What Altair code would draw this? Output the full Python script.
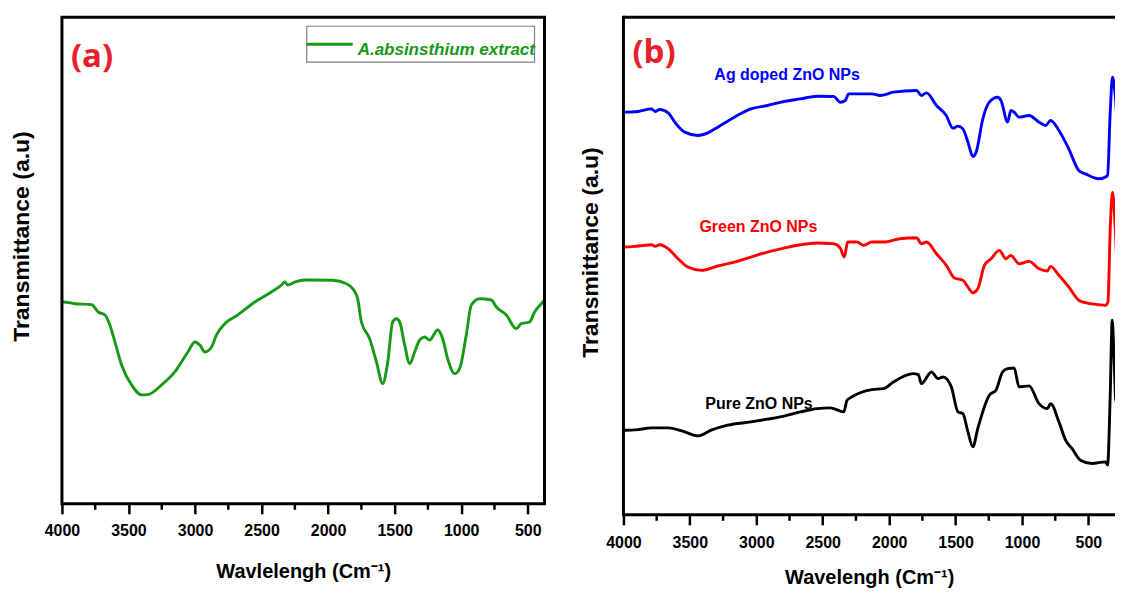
import altair as alt
import pandas as pd

# ---------------- data ----------------
# Panel (a): A. absinthium extract  (wavenumber, transmittance a.u.)
a_wn = [4000, 3990, 3902, 3777, 3727, 3677, 3640, 3602, 3552, 3477, 3402, 3354, 3251, 3152, 3054, 3001,
        2964, 2926, 2876, 2839, 2776, 2679, 2551, 2426, 2350, 2326, 2303, 2251, 2176, 1965, 1862, 1815,
        1778, 1750, 1688, 1637, 1590, 1552, 1515, 1487, 1462, 1425, 1387, 1350, 1312, 1275, 1237, 1177,
        1139, 1102, 1049, 1012, 962, 924, 862, 774, 736, 661, 586, 549, 486, 449, 398, 374]
a_t = [202, 202, 200.3, 199.3, 192, 189, 179, 162, 139, 119, 109, 109.3, 119, 132, 152, 162,
       159, 152, 157, 169, 180.3, 189, 202, 212, 219, 222, 219, 222, 224, 223.7, 220.3, 215.3,
       205.3, 182, 165.3, 142, 120.3, 142, 182, 185.3, 182, 159, 140.3, 152, 164, 167, 164, 174,
       165.3, 145.3, 130.3, 135.3, 169, 199, 205.3, 204, 197, 189, 175.3, 180.3, 182, 192, 200.3, 204]

# Panel (b): Ag doped ZnO NPs
ag_wn = [4000, 3987, 3888, 3788, 3763, 3726, 3663, 3613, 3539, 3439, 3364, 3290, 3165, 3041, 2916, 2791,
         2667, 2542, 2417, 2368, 2330, 2305, 2131, 2068, 1968, 1794, 1757, 1719, 1644, 1570, 1520, 1482,
         1445, 1407, 1370, 1345, 1295, 1246, 1183, 1158, 1108, 1084, 1059, 1022, 947, 872, 822, 785,
         722, 648, 573, 523, 423, 373, 356, 336, 319, 298, 274, 261]
ag_t = [403, 403, 403.7, 406.3, 403.7, 405.7, 402.3, 393, 383, 379.7, 382.3, 388, 398, 406.3, 409.7, 413.7,
        416.3, 419, 418.7, 413, 414.7, 421.3, 421.3, 419.7, 423, 424.7, 419.7, 422.3, 409.7, 399.7, 387, 389,
        386.3, 373, 358.7, 363, 396.3, 413, 418, 414.7, 393, 404.7, 403, 398, 399.7, 393, 389.7, 394.7,
        384.7, 366.3, 344.7, 341.3, 336.3, 338, 339.7, 403, 438, 419.7, 374.7, 373]

# Panel (b): Green ZnO NPs
gr_wn = [4000, 3987, 3888, 3788, 3763, 3726, 3663, 3589, 3514, 3414, 3290, 3165, 3041, 2916, 2791, 2667,
         2542, 2417, 2368, 2338, 2312, 2243, 2193, 2131, 2043, 1919, 1794, 1757, 1719, 1644, 1570, 1508,
         1445, 1407, 1370, 1333, 1283, 1233, 1171, 1121, 1084, 1022, 947, 872, 809, 785, 722, 648,
         573, 523, 423, 373, 353, 336, 319, 298, 281, 261]
gr_t = [268, 268, 269, 270.3, 268.7, 270.3, 266.3, 256.3, 248, 244.7, 249, 253, 258, 263, 267, 270.3,
        272, 271.3, 267, 258, 273, 273, 269.7, 273, 273, 276.3, 277.3, 271.3, 273, 261.3, 249.7, 237,
        234.7, 228, 222.3, 226.3, 249.7, 256.3, 264.7, 256.3, 259.7, 251.3, 253.7, 246.3, 244, 248.7, 239.7, 228,
        214.7, 212.3, 210.3, 209.7, 213, 286.3, 323, 286.3, 244.7, 269.7]

# Panel (b): Pure ZnO NPs
pu_wn = [4000, 3987, 3888, 3788, 3663, 3539, 3439, 3340, 3215, 3041, 2916, 2791, 2667, 2542, 2442, 2342,
         2317, 2293, 2131, 2043, 1968, 1819, 1781, 1757, 1682, 1632, 1594, 1532, 1482, 1445, 1407, 1370,
         1333, 1246, 1196, 1146, 1108, 1059, 1022, 947, 872, 809, 785, 722, 672, 623, 560, 473,
         373, 356, 336, 321, 306, 293, 278, 261]
pu_t = [84.7, 84.7, 85.3, 87, 87, 83, 79, 84.7, 89.7, 93, 95.7, 98.7, 103, 106.3, 107, 103,
        114.7, 117, 125.3, 126.3, 133, 141.3, 140.3, 131.3, 143, 136.3, 138, 128, 103, 101.3, 83, 68,
        86.3, 119.7, 124.7, 143, 146.3, 147, 128, 129, 111.3, 106.3, 111.3, 93, 74.7, 66.3, 54.7, 51.3,
        53, 49.7, 119.7, 194.7, 153, 113, 123, 111.3]

SERIES_B = ["Ag doped ZnO NPs", "Green ZnO NPs", "Pure ZnO NPs"]
COLORS_B = ["#0000ff", "#ff0000", "#000000"]

MAJOR = [4000, 3500, 3000, 2500, 2000, 1500, 1000, 500]
MINOR = [3750, 3250, 2750, 2250, 1750, 1250, 750]

# ---------------- styling ----------------
WA, HA = 483, 487
WB, HB = 492, 498
FONT = "Liberation Sans"
GREEN = "#179817"
LBL_RED = "#e8202a"
LW = 2.9

one = pd.DataFrame({"k": [0]})


def x_enc(domain, title, lp, tp):
    return alt.X("wn:Q", scale=alt.Scale(domain=domain, nice=False, zero=False),
                 axis=alt.Axis(values=MAJOR, format="d", title=title, domain=False, grid=False,
                               tickSize=10, tickWidth=2.5, tickColor="black",
                               labelFont=FONT, labelFontSize=16, labelFontWeight="bold",
                               labelColor="black", labelPadding=lp, labelFlush=False,
                               labelOverlap=False,
                               titleFont=FONT, titleFontSize=20, titleFontWeight="bold",
                               titleColor="black", titlePadding=tp))


def y_enc(h, title, tp, ty):
    return alt.Y("t:Q", scale=alt.Scale(domain=[0, h], nice=False, zero=False),
                 axis=alt.Axis(labels=False, ticks=False, domain=False, grid=False, title=title,
                               titleFont=FONT, titleFontSize=23, titleFontWeight="bold",
                               titleColor="black", titlePadding=tp, titleY=ty,
                               minExtent=0, maxExtent=0))


def minor_ticks(xenc, h):
    return alt.Chart(pd.DataFrame({"wn": MINOR})).mark_rule(
        color="black", strokeWidth=2.5).encode(x=xenc, y=alt.value(h), y2=alt.value(h + 6))


def label(txt, x, y, size, color, font=FONT, style="normal", baseline="middle"):
    return alt.Chart(one).mark_text(
        text=txt, align="left", baseline=baseline, font=font, fontSize=size,
        fontWeight="bold", fontStyle=style, color=color).encode(x=alt.value(x), y=alt.value(y))


# ---------------- panel (a) ----------------
df_a = pd.DataFrame({"wn": a_wn, "t": a_t})
xa = x_enc([4000, 374], "Wavlelengh (Cm⁻¹)", 9, 23)
ya = y_enc(HA, "Transmittance (a.u)", 28, 219)

line_a = alt.Chart(df_a).mark_line(color=GREEN, strokeWidth=LW, clip=True,
                                   interpolate="monotone").encode(x=xa, y=ya)
frame_a = alt.Chart(one).mark_rect(filled=False, stroke="black", strokeWidth=3).encode(
    x=alt.value(0), x2=alt.value(WA), y=alt.value(0), y2=alt.value(HA))
leg_box = alt.Chart(one).mark_rect(filled=False, stroke="#808080", strokeWidth=1.2).encode(
    x=alt.value(245), x2=alt.value(473), y=alt.value(9), y2=alt.value(45))
leg_line = alt.Chart(one).mark_rule(color=GREEN, strokeWidth=LW).encode(
    x=alt.value(245), x2=alt.value(291), y=alt.value(27))
leg_text = label("A.absinsthium extract", 296, 33, 17, GREEN, style="italic")
tag_a = label("(a)", 9, 40, 33, LBL_RED, font="Open Sans")

pa = alt.layer(line_a, minor_ticks(xa, HA), frame_a, leg_box, leg_line, leg_text, tag_a).properties(
    width=WA, height=HA)

# ---------------- panel (b) ----------------
df_b = pd.concat([
    pd.DataFrame({"wn": ag_wn, "t": ag_t, "s": SERIES_B[0]}),
    pd.DataFrame({"wn": gr_wn, "t": gr_t, "s": SERIES_B[1]}),
    pd.DataFrame({"wn": pu_wn, "t": pu_t, "s": SERIES_B[2]}),
])
xb = x_enc([4000, 300], "Wavelengh (Cm⁻¹)", 10, 17)
yb = y_enc(HB, "Transmittance (a.u)", 21, 235)

line_b = alt.Chart(df_b).mark_line(strokeWidth=LW, clip=True, interpolate="monotone").encode(
    x=xb, y=yb,
    color=alt.Color("s:N", scale=alt.Scale(domain=SERIES_B, range=COLORS_B), legend=None))
top_b = alt.Chart(one).mark_rule(color="black", strokeWidth=3).encode(
    x=alt.value(0), x2=alt.value(WB), y=alt.value(0))
bot_b = alt.Chart(one).mark_rule(color="black", strokeWidth=3).encode(
    x=alt.value(0), x2=alt.value(WB), y=alt.value(HB))
left_b = alt.Chart(one).mark_rule(color="black", strokeWidth=3, strokeCap="square").encode(
    x=alt.value(0), y=alt.value(0), y2=alt.value(HB))
tag_b = label("(b)", 9, 36, 33, LBL_RED, font="Open Sans")
lab_ag = label(SERIES_B[0], 91, 58, 16, COLORS_B[0])
lab_gr = label(SERIES_B[1], 76, 210, 16, COLORS_B[1])
lab_pu = label(SERIES_B[2], 82, 387, 16, COLORS_B[2])

pb = alt.layer(line_b, minor_ticks(xb, HB), top_b, bot_b, left_b, tag_b, lab_ag, lab_gr, lab_pu).properties(
    width=WB, height=HB)

chart = alt.hconcat(pa, pb, spacing=33).properties(
    padding={"left": 3, "top": 6, "right": 0, "bottom": 0}
).configure_view(strokeWidth=0)

chart.save("out.html", embed_options={"renderer": "svg", "actions": False})
